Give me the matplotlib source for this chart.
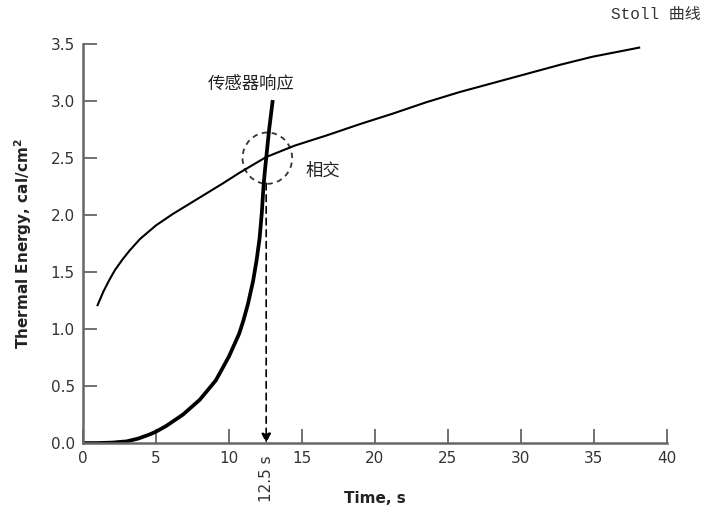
import matplotlib.pyplot as plt
from matplotlib.patches import Ellipse
import numpy as np

# Stoll curve
stoll_t = [1.0, 1.4, 1.8, 2.2, 2.7, 3.2, 3.9, 5.0, 6.15, 7.3, 8.45, 9.6, 10.7, 12.55, 14.5,
           16.7, 19.0, 21.2, 23.5, 25.8, 28.1, 30.4, 32.7, 34.9, 38.1]
stoll_e = [1.21, 1.33, 1.43, 1.52, 1.61, 1.69, 1.79, 1.91, 2.01, 2.10, 2.19, 2.28, 2.37, 2.51, 2.61,
           2.70, 2.80, 2.89, 2.99, 3.08, 3.16, 3.24, 3.32, 3.39, 3.47]

# sensor response
sensor_t = [0.0, 1.0, 2.0, 3.0, 3.8, 4.55, 5.0, 5.7, 6.85, 8.0, 9.1, 10.0, 10.7, 11.0, 11.3,
            11.65, 11.9, 12.1, 12.25, 12.37, 12.47, 12.55, 12.75, 13.0]
sensor_e = [0.0, 0.0, 0.004, 0.015, 0.04, 0.075, 0.10, 0.15, 0.25, 0.38, 0.55, 0.76, 0.96, 1.08,
            1.22, 1.42, 1.61, 1.80, 2.02, 2.26, 2.40, 2.50, 2.75, 3.01]

cross_t = 12.55
cross_label = '12.5 s'

plt.rcParams['font.family'] = ['DejaVu Sans', 'Noto Sans CJK SC']
grey = '#666666'

fig = plt.figure(figsize=(7.11, 5.14), dpi=100)
ax = fig.add_axes([0.1167, 0.138, 0.8213, 0.776])

ax.plot(stoll_t, stoll_e, color='black', lw=1.5, solid_joinstyle='round')
ax.plot(sensor_t, sensor_e, color='black', lw=2.7, solid_capstyle='butt', solid_joinstyle='round')

ax.add_patch(Ellipse((12.63, 2.50), 3.4, 0.45, fill=False, ls=(0, (3, 2.5)),
                     lw=1.3, edgecolor='#333333'))
ax.annotate('', xy=(cross_t, 0.0), xytext=(cross_t, 2.28),
            arrowprops=dict(arrowstyle='-|>', color='black', lw=1.2,
                            linestyle=(0, (4, 3)), mutation_scale=14, shrinkA=0, shrinkB=0))

ax.text(11.55, 3.07, '传感器响应', family='Noto Sans CJK SC', fontsize=12.5,
        ha='center', va='bottom', color='#222222')
ax.text(15.25, 2.39, '相交', family='Noto Sans CJK SC', fontsize=12.5,
        ha='left', va='center', color='#222222')
fig.text(0.985, 0.971, 'Stoll 曲线', family=['Liberation Mono', 'Noto Sans CJK SC'],
         fontsize=11.5, ha='right', va='center', color='#333333')

ax.set_xlim(0, 40)
ax.set_ylim(0, 3.5)
ax.set_xticks(np.arange(0, 41, 5))
ax.set_yticks(np.arange(0, 3.51, 0.5))
ax.set_yticklabels(['%.1f' % v for v in np.arange(0, 3.51, 0.5)])
ax.text(cross_t, -0.11, cross_label, rotation=90, ha='center', va='top',
        fontsize=11, color='#333333')

for s in ['top', 'right']:
    ax.spines[s].set_visible(False)
for s in ['left', 'bottom']:
    ax.spines[s].set_color(grey)
    ax.spines[s].set_linewidth(1.8)
ax.tick_params(direction='in', length=10, width=1.3, color=grey,
               labelsize=11, labelcolor='#333333', pad=6)

ax.set_xlabel('Time, s', fontsize=11, fontweight='bold', color='#222222', labelpad=18)
ax.set_ylabel('Thermal Energy, cal/cm$^\\mathbf{2}$', fontsize=11, fontweight='bold',
              color='#222222', labelpad=12)

fig.savefig('out.png', dpi=100)
